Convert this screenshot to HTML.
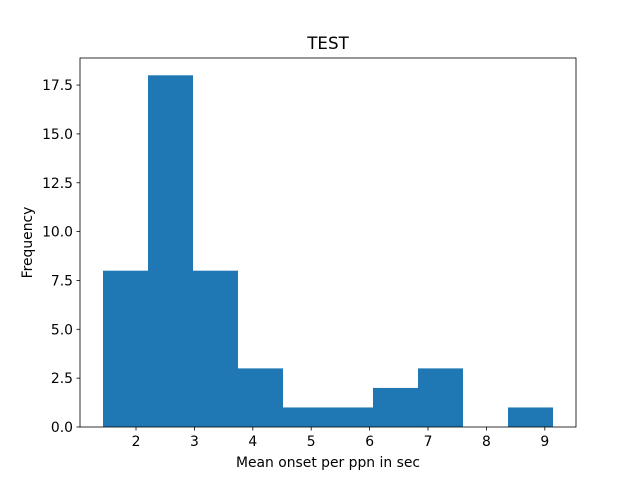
<!DOCTYPE html>
<html>
<head>
<meta charset="utf-8">
<style>
html,body{margin:0;padding:0;background:#fff;}
svg{display:block;font-family:"DejaVu Sans","Liberation Sans",sans-serif;}
</style>
</head>
<body>
<svg id="chart" width="640" height="480" viewBox="0 0 640 480">
<rect x="0" y="0" width="640" height="480" fill="#fff"/>
<g id="bars"></g>
<g id="xticks"></g>
<g id="yticks"></g>
<rect x="80" y="58" width="496" height="369" fill="none" stroke="#000" stroke-width="0.8"/>
<text x="328" y="49" text-anchor="middle" font-size="16.7">TEST</text>
<text x="328" y="467" text-anchor="middle" font-size="13.9">Mean onset per ppn in sec</text>
<text x="32" y="242.5" text-anchor="middle" font-size="13.9" transform="rotate(-90 32 242.5)">Frequency</text>
</svg>
<script>
const binStart = 1.435;
const binWidth = 0.7705;
const counts = [8, 18, 8, 3, 1, 1, 2, 3, 0, 1];
const xTickValues = [2, 3, 4, 5, 6, 7, 8, 9];
const yTickValues = [0, 2.5, 5, 7.5, 10, 12.5, 15, 17.5];
const yTickLabels = ["0.0", "2.5", "5.0", "7.5", "10.0", "12.5", "15.0", "17.5"];

const NS = "http://www.w3.org/2000/svg";
const X0 = 80, X1 = 576, Y0 = 427, Y1 = 58;
const xMin = 1.041, xMax = 9.534, yMin = 0, yMax = 18.885;
function xs(v){ return X0 + (v - xMin) / (xMax - xMin) * (X1 - X0); }
function ys(v){ return Y0 - (v - yMin) / (yMax - yMin) * (Y0 - Y1); }
function mk(tag, attrs){ const e = document.createElementNS(NS, tag); for (const k in attrs) e.setAttribute(k, attrs[k]); return e; }

const bars = document.getElementById('bars');
counts.forEach((c, i) => {
  if (c <= 0) return;
  const a = binStart + i * binWidth, b = a + binWidth;
  const r = mk('rect', {x: xs(a), y: ys(c), width: xs(b) - xs(a), height: ys(0) - ys(c), fill: '#1f77b4'});
  
  
  bars.appendChild(r);
});

const xt = document.getElementById('xticks');
xTickValues.forEach(v => {
  const x = xs(v);
  const l = mk('line', {x1: x, x2: x, y1: Y0, y2: Y0 + 3.5, stroke: '#000', 'stroke-width': 0.8});
  
  
  xt.appendChild(l);
  const t = mk('text', {x: x, y: Y0 + 19, 'text-anchor': 'middle', 'font-size': 13.9});
  t.textContent = String(v);
  
  
  xt.appendChild(t);
});

const yt = document.getElementById('yticks');
yTickValues.forEach((v, i) => {
  const y = ys(v);
  const l = mk('line', {x1: X0 - 3.5, x2: X0, y1: y, y2: y, stroke: '#000', 'stroke-width': 0.8});
  
  
  yt.appendChild(l);
  const t = mk('text', {x: X0 - 7, y: y + 5, 'text-anchor': 'end', 'font-size': 13.9});
  t.textContent = yTickLabels[i];
  
  
  yt.appendChild(t);
});
</script>
</body>
</html>
